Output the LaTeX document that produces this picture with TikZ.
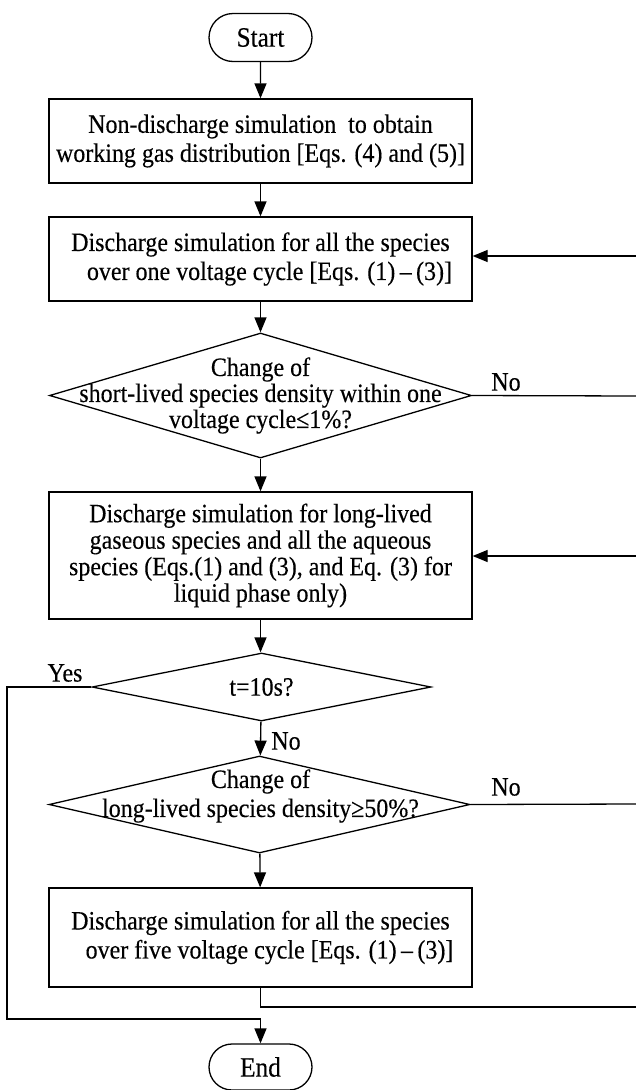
\documentclass[tikz,border=0pt]{standalone}
\usepackage{fontspec}
\setmainfont{Liberation Serif}[FakeStretch=0.905, FakeBold=0.3]
\usetikzlibrary{arrows.meta,shapes.geometric,shapes.misc}
\begin{document}
\begin{tikzpicture}[x=1pt,y=-1pt, line width=1.3pt,
  box/.style={draw, rectangle, minimum width=423pt, inner sep=0pt, align=center,
    font=\fontsize{26.5}{29}\selectfont},
  dia/.style={draw, diamond, inner sep=0pt},
  term/.style={draw, rounded rectangle, minimum width=103pt, minimum height=48pt, inner sep=0pt,
    font=\fontsize{28}{29}\selectfont},
  txt/.style={align=center, inner sep=0pt, font=\fontsize{26.5}{29}\selectfont},
  arr/.style={-{Triangle[length=15pt,width=12pt]}},
  lbl/.style={inner sep=0pt, font=\fontsize{26.5}{29}\selectfont}
]
\useasboundingbox (0,0) rectangle (636,1090);

\node[term] (start) at (260.5,37.5) {Start};
\node[box, minimum height=84pt] (b1) at (260.5,141) {Non-discharge simulation\ \ to obtain\\working gas distribution [Eqs. (4) and (5)]};
\node[box, minimum height=84pt] (b2) at (260.5,259) {Discharge simulation for all the species\\\hspace*{18pt}over one voltage cycle [Eqs. (1)\,–\,(3)]};
\node[dia, minimum width=422pt, minimum height=125pt] (d1) at (260.5,395.5) {};
\node[txt, font=\fontsize{26.5}{26}\selectfont] (d1t) at (d1.center) {Change of\\short-lived species density within one\\voltage cycle≤1\%?};
\node[box, minimum height=127pt, font=\fontsize{26.5}{26.5}\selectfont] (b3) at (260.5,555.5) {Discharge simulation for long-lived\\gaseous species and all the aqueous\\species (Eqs.(1) and (3), and Eq. (3) for\\liquid phase only)};
\node[dia, minimum width=339pt, minimum height=68pt] (d2) at (261.5,687) {};
\node[txt] (d2t) at (d2.center) {t=10s?};
\node[dia, minimum width=421pt, minimum height=97pt] (d3) at (259.5,804.5) {};
\node[txt] (d3t) at (260.5,796) {Change of\\long-lived species density≥50\%?};
\node[box, minimum height=99pt] (b4) at (260.5,937.5) {Discharge simulation for all the species\\\hspace*{18pt}over five voltage cycle [Eqs. (1)\,–\,(3)]};
\node[term, minimum height=46pt] (end) at (260.5,1067) {End};

\coordinate (r1) at (636,256);
\coordinate (r2) at (636,396);
\coordinate (r3) at (636,556);
\coordinate (r4) at (636,804);
\coordinate (r5) at (636,1007);
\coordinate (yl) at (7,687);
\coordinate (yb) at (7,1019);

\draw[arr] (start) -- (b1);
\draw[arr] (b1) -- (b2);
\draw[arr] (b2) -- (d1);
\draw[arr] (d1) -- (b3);
\draw[arr] (b3) -- (b3 |- d2.north);
\draw[arr] (d2) -- (d3);
\draw[arr] (d3) -- (b4);
\draw[arr] (r1) -- (b2.east |- r1);
\draw[arr] (r3) -- (b3.east |- r3);
\draw (d1.east) -- (r2);
\draw (d3.east) -- (r4);
\draw (b4.south) |- (r5);
\draw[arr] (d2.west) -- (yl) -- (yb) -| (end.north);

\node[lbl] (no1) at (506,382) {No};
\node[lbl] (no2) at (506,787) {No};
\node[lbl] (yes) at (65,673) {Yes};
\node[lbl] (no3) at (286,741) {No};
\end{tikzpicture}
\end{document}
